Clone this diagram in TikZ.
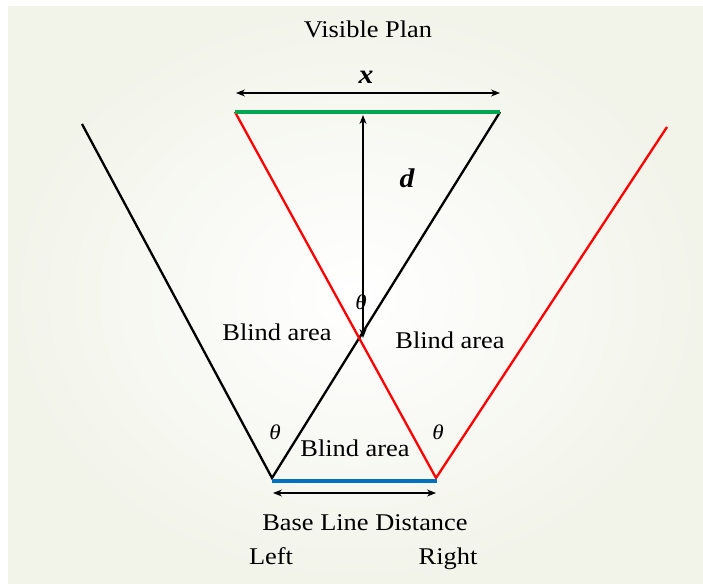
\documentclass[tikz,border=0pt]{standalone}
\usepackage{fontspec}
\setmainfont{Liberation Serif}[FakeStretch=1.1]
\usetikzlibrary{arrows.meta}
\definecolor{bgc}{RGB}{242,244,234}
\definecolor{grn}{RGB}{0,166,80}
\definecolor{blu}{RGB}{0,112,192}
\definecolor{rd}{RGB}{255,0,0}
\begin{document}
\begin{tikzpicture}[x=1pt,y=-1pt,
  lbl/.style={inner sep=0pt,anchor=base,font=\fontsize{24}{26}\selectfont},
  sym/.style={inner sep=0pt,font=\fontsize{21}{23}\selectfont\itshape},
  var/.style={inner sep=0pt,font=\fontsize{27}{29}\selectfont\bfseries\itshape},
  ray/.style={line width=2.3pt},
  bar/.style={line width=4.5pt},
  dim/.style={line width=1.2pt,{Stealth[length=9pt,width=7pt]}-{Stealth[length=9pt,width=7pt]}}]
\useasboundingbox (0,0) rectangle (703,583);
\shade[inner color=white,outer color=bgc] (8,7) rectangle (703,583);
% key points
\coordinate (TL) at (235,112);
\coordinate (TR) at (500,112);
\coordinate (L) at (272,478);
\coordinate (R) at (436,478);
\coordinate (LL) at (82,124);
\coordinate (RR) at (667,127);
\coordinate (BL) at (272,481);
\coordinate (BR) at (437,481);
\coordinate (AxL) at (236,93);
\coordinate (AxR) at (500,93);
\coordinate (DT) at (363,115);
\coordinate (DB) at (363,338);
\coordinate (BaL) at (273,493);
\coordinate (BaR) at (436,493);
% rays
\draw[ray,black] (LL) -- (L) -- (TR);
\draw[ray,rd] (TL) -- (R) -- (RR);
% bars
\draw[bar,grn] (TL) -- (TR);
\draw[bar,blu] (BL) -- (BR);
% dimension arrows
\draw[dim] (AxL) -- (AxR);
\draw[dim] (DT) -- (DB);
\draw[dim] (BaL) -- (BaR);
% labels
\node[lbl] (vp) at (368,38) {Visible Plan};
\node[var] (xl) at (366,77) {x};
\node[var] (dl) at (407,178) {d};
\node[sym] (t1) at (361,302) {θ};
\node[sym] (t2) at (275,432) {θ};
\node[sym] (t3) at (438,432) {θ};
\node[lbl] (b1) at (277,340) {Blind area};
\node[lbl] (b2) at (450,348) {Blind area};
\node[lbl] (b3) at (355,456) {Blind area};
\node[lbl] (bld) at (365,530) {Base Line Distance};
\node[lbl] (lt) at (271,564) {Left};
\node[lbl] (rt) at (448,564) {Right};
\end{tikzpicture}
\end{document}
